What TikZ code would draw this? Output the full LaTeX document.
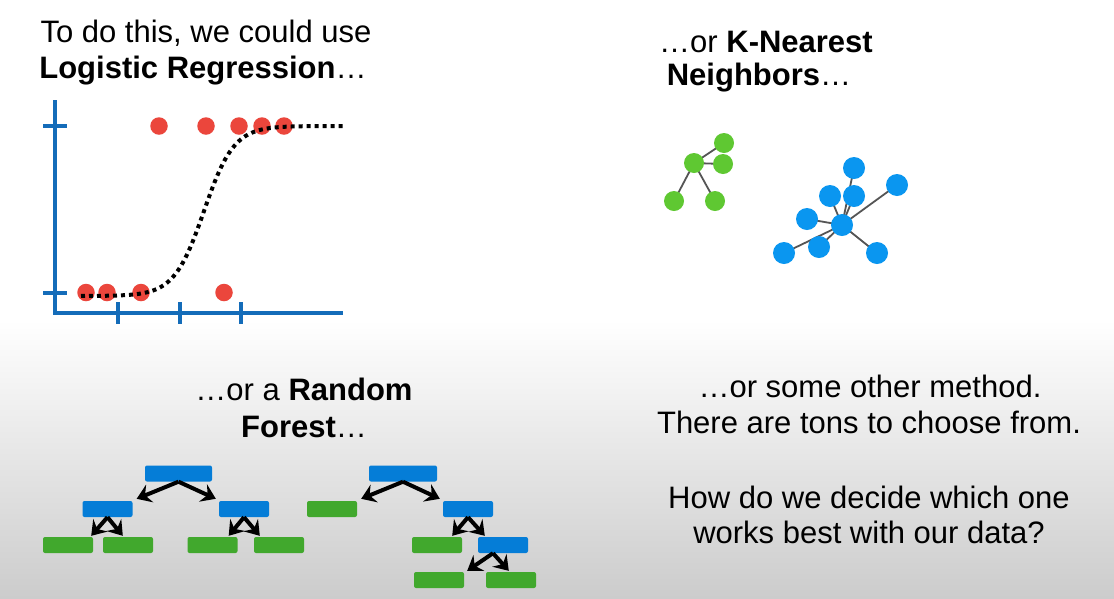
\documentclass[tikz,border=0pt]{standalone}
\usepackage{fontspec}
\setmainfont{Liberation Sans}
\usetikzlibrary{arrows.meta,backgrounds,calc}
\definecolor{axisblue}{RGB}{20,108,185}
\definecolor{dotred}{RGB}{235,70,60}
\definecolor{knngreen}{RGB}{95,200,50}
\definecolor{knnblue}{RGB}{10,150,240}
\definecolor{treeblue}{RGB}{5,125,215}
\definecolor{treegreen}{RGB}{65,168,45}
\definecolor{edgegray}{RGB}{85,85,85}
\begin{document}
\begin{tikzpicture}[x=1pt,y=-1pt,
 txt/.style={font=\fontsize{31}{37}\selectfont, anchor=base, inner sep=0pt},
 rdot/.style={circle, fill=dotred, minimum size=17.5pt, inner sep=0pt},
 gdot/.style={circle, fill=knngreen, minimum size=20pt, inner sep=0pt},
 bdot/.style={circle, fill=knnblue, minimum size=22pt, inner sep=0pt},
 kedge/.style={draw=edgegray, line width=1.8pt},
 tbox/.style={rectangle, rounded corners=2pt, minimum width=50pt, minimum height=16pt, inner sep=0pt},
 tblue/.style={tbox, fill=treeblue},
 tgreen/.style={tbox, fill=treegreen},
 troot/.style={tblue, minimum width=67pt},
 tarr/.style={-{Stealth[length=14pt,width=19pt,inset=5pt]}, line width=4pt},
 axisline/.style={draw=axisblue, line width=4pt},
]
\useasboundingbox (0,0) rectangle (1114,598);
\begin{pgfonlayer}{background}
\fill[white] (0,0) rectangle (1114,321);
\shade[top color=white,bottom color=black!20] (0,320) rectangle (1114,598);
\end{pgfonlayer}

% --- Logistic regression ---
\node[txt] (t1) at (206,42) {To do this, we could use};
\node[txt] (t2) at (203,78) {\textbf{Logistic Regression}…};
\draw[axisline] (55,100) -- (55,313) -- (343,313);
\draw[axisline] (43,126) -- (67,126);
\draw[axisline] (43,292.5) -- (67,292.5);
\draw[axisline] (118,302) -- (118,324);
\draw[axisline] (180,302) -- (180,324);
\draw[axisline] (241,302) -- (241,324);
\node[rdot] (r1) at (159,126) {};
\node[rdot] (r2) at (206,126) {};
\node[rdot] (r3) at (239,126) {};
\node[rdot] (r4) at (262,126) {};
\node[rdot] (r5) at (284,126) {};
\node[rdot] (r6) at (86,292.5) {};
\node[rdot] (r7) at (107,292.5) {};
\node[rdot] (r8) at (141,292.5) {};
\node[rdot] (r9) at (224,292.5) {};
\draw[line width=4pt, dash pattern=on 4pt off 4pt]
  plot[domain=81:343,samples=150] (\x,{296-170/(1+exp(-(\x-204)/15))});

% --- KNN ---
\node[txt] (k1) at (766,52) {…or \textbf{K-Nearest}};
\node[txt] (k2) at (759,85) {\textbf{Neighbors}…};
\node[gdot] (g0) at (694,163) {};
\node[gdot] (g1) at (724,143) {};
\node[gdot] (g2) at (723,164) {};
\node[gdot] (g3) at (674,201) {};
\node[gdot] (g4) at (715,201) {};
\node[bdot] (b0) at (842,225) {};
\node[bdot] (b1) at (854,168) {};
\node[bdot] (b2) at (830,196) {};
\node[bdot] (b3) at (854,196) {};
\node[bdot] (b4) at (897,185) {};
\node[bdot] (b5) at (807,219) {};
\node[bdot] (b6) at (819,247) {};
\node[bdot] (b7) at (784,253) {};
\node[bdot] (b8) at (877,253) {};
\begin{pgfonlayer}{background}
\foreach \n in {g1,g2,g3,g4} \draw[kedge] (g0.center) -- (\n.center);
\foreach \n in {b1,b2,b3,b4,b5,b6,b7,b8} \draw[kedge] (b0.center) -- (\n.center);
\end{pgfonlayer}

% --- Random forest ---
\node[txt] (f1) at (304,400) {…or a \textbf{Random}};
\node[txt] (f2) at (304,437) {\textbf{Forest}…};
% tree 1
\node[troot] (ta) at (178.5,473.5) {};
\node[tblue] (tb) at (107.5,509) {};
\node[tblue] (tc) at (244,509) {};
\node[tgreen] (tl1) at (68,545) {};
\node[tgreen] (tl2) at (128,545) {};
\node[tgreen] (tl3) at (212.5,545) {};
\node[tgreen] (tl4) at (279,545) {};
\draw[tarr] (ta.south) -- ([shift={(4,-2)}]tb.north east);
\draw[tarr] (ta.south) -- ([shift={(-3,-2)}]tc.north west);
\draw[tarr] (tb.south) -- ([shift={(-2,-1)}]tl1.north east);
\draw[tarr] (tb.south) -- ([shift={(20,-1)}]tl2.north west);
\draw[tarr] (tc.south) -- ([shift={(-9,-1)}]tl3.north east);
\draw[tarr] (tc.south) -- ([shift={(6,-1)}]tl4.north west);
% tree 2
\node[troot, minimum width=68pt] (ua) at (403,473.5) {};
\node[tgreen] (ug1) at (332,509) {};
\node[tblue] (ub) at (468,509) {};
\node[tgreen] (ug2) at (437,545) {};
\node[tblue] (uc) at (503,545) {};
\node[tgreen] (ug3) at (439,580) {};
\node[tgreen] (ug4) at (511,580) {};
\draw[tarr] (ua.south) -- ([shift={(4,-2)}]ug1.north east);
\draw[tarr] (ua.south) -- ([shift={(-3,-2)}]ub.north west);
\draw[tarr] (ub.south) -- ([shift={(-10,-1)}]ug2.north east);
\draw[tarr] (ub.south) -- ([shift={(7,-1)}]uc.north west);
\draw[tarr] ([xshift=-10pt]uc.south) -- ([shift={(3,-1)}]ug3.north east);
\draw[tarr] ([xshift=-10pt]uc.south) -- ([shift={(23,-1)}]ug4.north west);

% --- other methods ---
\node[txt] (m1) at (870,397) {…or some other method.};
\node[txt] (m2) at (869,433) {There are tons to choose from.};
\node[txt] (m3) at (869,508) {How do we decide which one};
\node[txt] (m4) at (869,543) {works best with our data?};
\end{tikzpicture}
\end{document}
